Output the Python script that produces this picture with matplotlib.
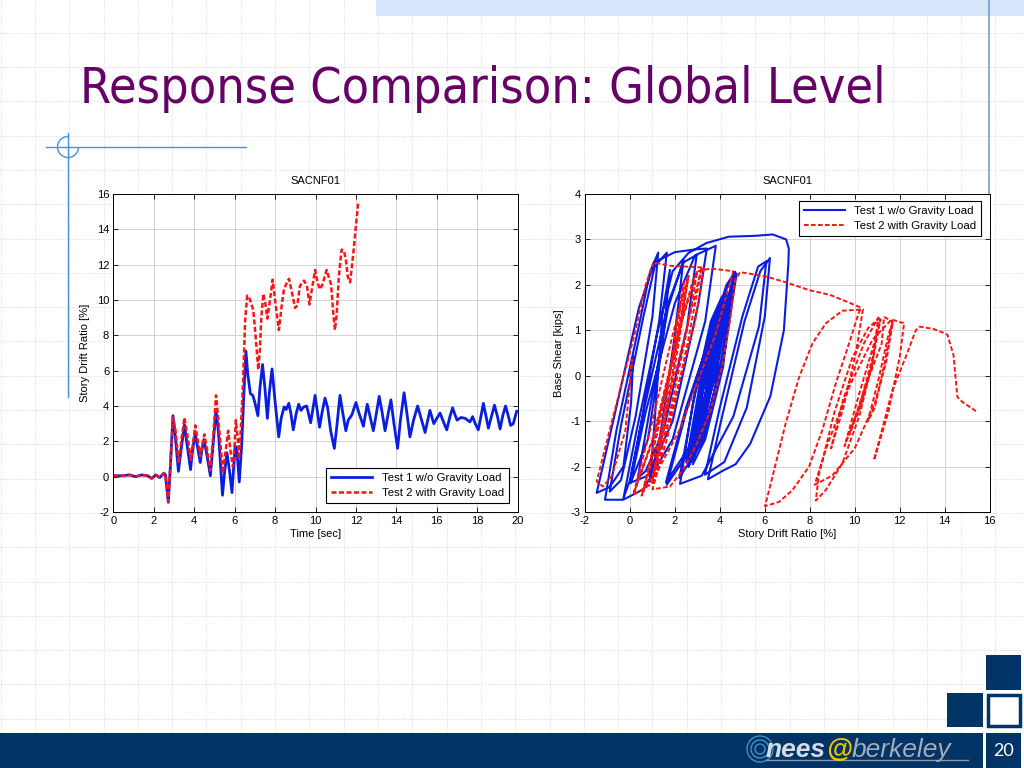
import numpy as np
import matplotlib
matplotlib.use('Agg')
import matplotlib.pyplot as plt
from matplotlib.patches import Rectangle, Arc, Circle

plt.rcParams['font.family'] = ['Liberation Sans', 'DejaVu Sans']
plt.rcParams['font.size'] = 8
plt.rcParams['axes.unicode_minus'] = False

# ---- data ----
title_text = 'Response Comparison: Global Level'
plot_title = 'SACNF01'
label1 = 'Test 1 w/o Gravity Load'
label2 = 'Test 2 with Gravity Load'

# story drift ratio [%] vs time [sec]
th_test1 = [
    (0.0, 0.05), (0.4, 0.05), (0.8, 0.1), (1.1, 0.0), (1.4, 0.1), (1.7, 0.05), (1.9, -0.1),
    (2.1, 0.1), (2.3, -0.05), (2.5, 0.2), (2.58, 0.1), (2.72, -1.45), (2.82, 0.5), (2.95, 3.45),
    (3.05, 2.5), (3.22, 0.3), (3.35, 1.5), (3.52, 2.95), (3.65, 1.8), (3.82, 0.4), (3.92, 1.5),
    (4.05, 2.45), (4.18, 1.6), (4.3, 0.8), (4.38, 1.5), (4.48, 2.1), (4.62, 1.3), (4.8, 0.05),
    (4.95, 2.0), (5.08, 3.8), (5.2, 2.5), (5.4, -1.05), (5.5, 0.2), (5.62, 1.35), (5.75, 0.3),
    (5.87, -0.9), (5.95, 0.5), (6.03, 1.75), (6.12, 1.4), (6.23, -0.3), (6.35, 1.8), (6.45, 4.5),
    (6.56, 7.1), (6.65, 5.8), (6.78, 4.7), (6.9, 4.6), (7.0, 4.2), (7.15, 3.45), (7.25, 5.0),
    (7.38, 6.35), (7.5, 5.0), (7.62, 3.3), (7.72, 4.8), (7.85, 6.1), (7.98, 4.5), (8.18, 2.25),
    (8.3, 3.3), (8.45, 3.95), (8.55, 3.8), (8.68, 4.15), (8.78, 3.6), (8.9, 2.65), (9.05, 3.6),
    (9.17, 4.1), (9.28, 3.75), (9.42, 3.95), (9.56, 4.0), (9.65, 3.6), (9.76, 3.05), (9.88, 3.9),
    (9.98, 4.6), (10.08, 3.8), (10.2, 2.8), (10.32, 3.6), (10.47, 4.45), (10.6, 3.9), (10.75, 2.6),
    (10.93, 1.6), (11.05, 2.8), (11.21, 4.6), (11.35, 3.6), (11.5, 2.6), (11.62, 3.2), (11.8, 3.5),
    (12.0, 4.2), (12.15, 3.6), (12.37, 2.85), (12.45, 3.4), (12.56, 4.1), (12.7, 3.4), (12.86, 2.6),
    (13.0, 3.5), (13.15, 4.55), (13.3, 3.6), (13.44, 2.6), (13.6, 3.6), (13.73, 4.35), (13.88, 3.0),
    (14.06, 1.6), (14.2, 3.2), (14.38, 4.75), (14.52, 3.6), (14.67, 2.25), (14.85, 3.2), (15.05, 4.0),
    (15.25, 3.2), (15.42, 2.5), (15.55, 3.2), (15.66, 3.75), (15.85, 3.0), (16.0, 3.3), (16.16, 3.6),
    (16.33, 3.1), (16.49, 2.65), (16.65, 3.4), (16.78, 3.9), (16.9, 3.5), (17.0, 3.2), (17.2, 3.35),
    (17.4, 3.3), (17.64, 3.1), (17.77, 3.4), (17.9, 3.0), (18.05, 2.65), (18.18, 3.4), (18.3, 4.15),
    (18.42, 3.5), (18.55, 2.75), (18.7, 3.4), (18.85, 4.05), (19.0, 3.4), (19.13, 2.7), (19.27, 3.5),
    (19.4, 4.0), (19.52, 3.5), (19.65, 2.9), (19.78, 3.0), (19.95, 3.7),
]
th_test2 = [
    (0.0, 0.05), (0.4, 0.05), (0.8, 0.1), (1.1, 0.0), (1.4, 0.1), (1.7, 0.05), (1.9, -0.1),
    (2.1, 0.1), (2.3, -0.05), (2.5, 0.2), (2.58, 0.1), (2.72, -1.4), (2.82, 0.6), (2.95, 3.35),
    (3.08, 2.6), (3.23, 0.75), (3.36, 2.0), (3.52, 3.35), (3.68, 2.2), (3.84, 0.95), (3.94, 1.9),
    (4.06, 2.9), (4.18, 2.0), (4.32, 1.15), (4.4, 1.8), (4.5, 2.4), (4.64, 1.5), (4.8, 0.35),
    (4.96, 2.6), (5.08, 4.6), (5.2, 3.2), (5.42, 0.2), (5.55, 1.4), (5.68, 2.6), (5.8, 1.4),
    (5.92, 0.55), (6.0, 1.8), (6.06, 3.2), (6.15, 2.2), (6.22, 1.0), (6.32, 3.0), (6.42, 5.5),
    (6.52, 8.8), (6.62, 10.25), (6.72, 10.15), (6.82, 9.8), (6.92, 9.45), (7.02, 8.2), (7.17, 6.05),
    (7.25, 7.2), (7.32, 9.0), (7.42, 10.35), (7.52, 9.8), (7.62, 8.95), (7.75, 10.0), (7.88, 11.15),
    (8.0, 10.0), (8.19, 8.3), (8.32, 9.6), (8.44, 10.6), (8.55, 10.9), (8.69, 11.2), (8.82, 10.5),
    (8.99, 9.55), (9.1, 9.7), (9.23, 10.8), (9.43, 11.1), (9.58, 10.8), (9.7, 9.75), (9.85, 10.8),
    (9.98, 11.7), (10.1, 11.0), (10.22, 10.6), (10.35, 10.9), (10.55, 11.7), (10.68, 11.2),
    (10.77, 10.9), (10.86, 9.5), (10.96, 8.3), (11.05, 9.2), (11.15, 11.3), (11.29, 12.85),
    (11.4, 12.8), (11.5, 12.3), (11.6, 11.3), (11.71, 11.0), (11.8, 11.9), (11.9, 13.0),
    (12.0, 14.2), (12.12, 15.6),
]

# base shear [kips] vs story drift ratio [%]
hys_test1 = [
    (0.00, 0.00), (0.08, 0.25), (0.15, 0.42), (0.05, -0.60), (-0.29, -2.00), (-0.90, -2.45), (-1.48, -2.58),
    (-0.70, -0.90), (0.40, 1.50), (1.10, 2.50), (2.00, 2.72), (2.90, 2.78), (3.42, 2.80),
    (3.05, 1.60), (1.90, -1.00), (0.80, -2.20), (0.00, -2.36),
    (0.60, -0.80), (1.70, 1.60), (2.40, 2.50), (2.97, 2.66),
    (2.55, 1.10), (1.50, -1.20), (0.70, -2.10), (0.35, -2.25),
    (0.90, -0.70), (1.70, 1.50), (2.38, 2.55),
    (2.00, 0.90), (1.35, -1.30), (0.89, -2.33),
    (1.10, -1.00), (1.45, 1.40), (1.78, 2.33),
    (1.45, 0.70), (0.80, -1.40), (0.03, -2.36),
    (0.70, -0.80), (2.00, 1.60), (2.90, 2.65), (3.82, 2.86),
    (3.35, 1.20), (1.90, -1.40), (0.60, -2.50), (-0.30, -2.73), (-1.11, -2.73),
    (-0.60, -1.20), (0.40, 1.10), (0.90, 2.30), (1.26, 2.71),
    (1.00, 1.30), (0.25, -0.90), (-0.40, -2.30), (-0.90, -2.55),
    (-0.40, -1.10), (0.60, 1.30), (1.10, 2.40), (1.64, 2.71),
    (1.30, 1.20), (0.55, -0.90), (0.00, -2.30), (-0.29, -2.70),
    (0.30, -1.20), (1.20, 0.90), (1.90, 2.30), (2.60, 2.70), (3.40, 2.92), (4.40, 3.06),
    (5.60, 3.08), (6.35, 3.11), (6.95, 3.00), (7.07, 2.80),
    (7.05, 2.47), (6.85, 1.00), (6.25, -0.45), (5.35, -1.50), (4.70, -1.95), (4.10, -2.10), (3.47, -2.28),
    (4.10, -0.90), (5.10, 1.20), (5.80, 2.30), (6.23, 2.59),
    (6.00, 1.30), (5.20, -0.70), (4.20, -1.90), (3.34, -2.18),
    (4.00, -0.70), (5.00, 1.30), (5.70, 2.40), (6.07, 2.52),
    (5.75, 1.10), (4.60, -0.90), (3.20, -2.20), (2.23, -2.38),
    (2.80, -0.60), (3.60, 1.20), (4.10, 1.75),
    (3.75, 0.40), (3.15, -1.20), (2.65, -1.85),
    (3.20, -0.40), (3.80, 1.20), (4.15, 1.70),
    (3.80, 0.20), (3.05, -1.55),
    (3.60, -0.30), (4.20, 1.30), (4.55, 2.10),
    (4.15, 0.20), (3.35, -1.40), (2.80, -1.95),
    (3.40, -0.50), (4.00, 1.10), (4.40, 1.80),
    (3.85, 0.00), (2.60, -1.70), (1.64, -2.40),
    (2.50, -0.80), (3.70, 1.10), (4.30, 2.00), (4.68, 2.29),
    (4.25, 0.60), (3.35, -1.30), (2.60, -2.00),
    (3.20, -0.50), (3.80, 1.00), (4.20, 1.70),
    (3.85, 0.20), (3.20, -1.30), (2.84, -1.80),
    (3.40, -0.30), (3.80, 1.10), (4.07, 1.60),
    (3.65, -0.10), (3.05, -1.50), (2.60, -2.00),
    (3.20, -0.40), (4.00, 1.30), (4.50, 1.90),
    (4.05, 0.30), (3.25, -1.40), (2.60, -1.95),
    (3.20, -0.40), (3.85, 1.10), (4.30, 1.80),
    (3.75, 0.00), (2.60, -1.60), (1.60, -2.35),
    (2.50, -0.70), (3.80, 1.20), (4.40, 2.05), (4.75, 2.25),
    (4.15, 0.40), (3.15, -1.50), (2.20, -2.25),
    (2.90, -0.40), (3.60, 1.00), (4.00, 1.60),
    (3.55, 0.00), (2.90, -1.40), (2.50, -1.90),
    (3.00, -0.50), (3.45, 0.80), (3.75, 1.30),
    (3.40, -0.30), (3.00, -1.20), (3.25, 0.00), (3.60, 1.00),
    (3.20, -0.40), (2.65, -1.70), (3.20, -0.20), (3.90, 1.40),
    (3.50, -0.30), (3.10, -1.10), (3.25, 0.00), (3.40, 0.50),
    (3.10, -0.80), (2.65, -1.75), (3.30, -0.10), (4.17, 1.65),
    (3.60, -0.10), (2.70, -1.75), (3.30, -0.10), (4.00, 1.55),
    (3.50, -0.20), (2.70, -1.70), (3.30, -0.10), (4.00, 1.50),
    (3.50, -0.30), (2.90, -1.50), (3.30, 0.00), (3.70, 1.00),
]
hys_test2 = [
    (0.00, 0.00), (0.10, 0.35), (-0.20, -1.20), (-0.80, -2.20), (-1.20, -2.44), (-1.48, -2.33),
    (-0.80, -1.00), (0.20, 0.90), (0.70, 2.00), (1.04, 2.49), (1.80, 2.42), (2.60, 2.40), (3.30, 2.38),
    (2.90, 1.20), (1.80, -0.90), (1.00, -2.20), (0.60, -2.55),
    (1.20, -1.20), (2.20, 1.00), (2.80, 2.10), (3.00, 2.30),
    (2.50, 0.90), (1.70, -1.00), (1.20, -2.10), (1.00, -2.40),
    (1.50, -1.10), (2.20, 1.00), (2.60, 2.20),
    (2.20, 0.80), (1.50, -1.20), (1.00, -2.30),
    (1.60, -0.60), (2.10, 1.20), (2.40, 2.05),
    (1.90, 0.40), (1.00, -1.40), (0.20, -2.55),
    (1.10, -1.30), (2.30, 1.20), (3.00, 2.30), (3.60, 2.36), (4.60, 2.30),
    (3.80, 0.90), (2.20, -1.20), (0.90, -2.40), (0.15, -2.62),
    (0.90, -1.20), (1.90, 0.90), (2.60, 2.20),
    (2.00, 0.60), (1.20, -1.30), (0.52, -2.64),
    (1.30, -1.40), (2.40, 0.80), (3.20, 2.39),
    (2.60, 0.80), (1.70, -1.30), (1.00, -2.50),
    (1.78, -2.44), (2.40, -2.05), (2.97, -1.50), (3.56, -0.80), (4.10, 0.20), (4.45, 1.20),
    (4.68, 2.10), (4.90, 2.28), (5.40, 2.24), (6.09, 2.18), (6.98, 2.05), (8.00, 1.88),
    (8.90, 1.78), (9.65, 1.63), (10.27, 1.50),
    (10.12, 1.29), (9.75, 0.71), (9.16, -0.17), (8.56, -1.20), (7.97, -2.00), (7.23, -2.52),
    (6.63, -2.78), (6.01, -2.87),
    (6.34, -2.23), (6.93, -1.05), (7.53, -0.03), (8.12, 0.71), (8.71, 1.15), (9.45, 1.43), (10.37, 1.46),
    (10.05, 0.50), (9.50, -0.70), (8.95, -1.60),
    (9.50, -0.50), (10.40, 0.70), (11.05, 1.28),
    (10.79, 0.27), (10.20, -0.90), (9.45, -1.93), (8.71, -2.52), (8.27, -2.75),
    (8.40, -2.20), (9.10, -0.80), (9.90, 0.40), (10.60, 1.05), (11.09, 1.26),
    (10.80, 0.40), (10.20, -0.70), (9.55, -1.55),
    (10.20, -0.40), (10.80, 0.60), (11.15, 1.24),
    (10.75, 0.20), (10.25, -0.70), (9.76, -1.30),
    (10.50, -0.20), (11.20, 0.70), (11.31, 1.29), (11.68, 1.20),
    (11.30, 0.20), (10.90, -0.70), (10.59, -1.00),
    (11.10, 0.00), (11.50, 0.90), (11.70, 1.18),
    (11.40, 0.30), (10.90, -0.60), (10.00, -1.60), (9.00, -2.20), (8.22, -2.40),
    (8.80, -1.50), (9.80, -0.20), (10.80, 0.80), (11.65, 1.24), (11.98, 1.18), (12.20, 1.16),
    (12.00, 0.40), (11.50, -0.80), (10.86, -1.86),
    (11.68, -0.32), (12.27, 0.41), (12.72, 1.00), (12.90, 1.08), (13.50, 1.03), (13.98, 0.94),
    (14.13, 0.90), (14.40, 0.45), (14.57, -0.47), (14.80, -0.58), (15.46, -0.80),
]

t1, d1 = np.array(th_test1).T
t2, d2 = np.array(th_test2).T
x1, v1 = np.array(hys_test1).T
x2, v2 = np.array(hys_test2).T

blue = '#0a1ee0'
red = '#ff1414'
navy = '#003366'

W, H = 1024, 768
fig = plt.figure(figsize=(W / 100, H / 100), dpi=100)
fig.patch.set_facecolor('white')

# ---- slide background (pixel coordinates) ----
bg = fig.add_axes([0, 0, 1, 1], zorder=0)
bg.set_xlim(0, W)
bg.set_ylim(H, 0)
bg.axis('off')
bg.vlines(np.arange(0.7, W, 34.3), 0, H, colors='#d3dcf0', linestyles=(0, (1, 1.3)), lw=0.7, zorder=1)
bg.hlines(np.arange(32.7, H, 34.3), 0, W, colors='#d3dcf0', linestyles=(0, (1, 1.3)), lw=0.7, zorder=1)
bg.add_patch(Rectangle((376, 0), W - 376, 16, color='#d6e5f9', lw=0, zorder=2))
bg.plot([989, 989], [0, 194], color='#7b9bd0', lw=1.2, zorder=3)
bg.plot([46, 246], [147, 147], color='#4a8fdc', lw=1.0, zorder=3)
bg.plot([68, 68], [133, 397], color='#4a8fdc', lw=1.0, zorder=3)
bg.add_patch(Arc((68, 147), 21, 21, theta1=0, theta2=270, color='#4a8fdc', lw=1.0, zorder=3))

bg.add_patch(Rectangle((0, 733), 983, 35, color=navy, lw=0, zorder=4))
bg.add_patch(Rectangle((986, 733), 35, 35, color=navy, lw=0, zorder=4))
bg.add_patch(Rectangle((986, 655), 35, 35, color=navy, lw=0, zorder=4))
bg.add_patch(Rectangle((947, 693), 36, 34, color=navy, lw=0, zorder=4))
bg.add_patch(Rectangle((987.5, 694.5), 32, 31, facecolor='white', edgecolor=navy, lw=2.5, zorder=4))
bg.text(1003.5, 751, '20', color='white', fontsize=13, family='Lato', ha='center', va='center', zorder=5)

# logo
for r in (13, 9, 5):
    bg.add_patch(Circle((760, 749), r, fill=False, edgecolor='#5cb4e6', lw=0.9, alpha=0.8, zorder=5))
logo_parts = [('nees', '#d4dbe4', 'bold'), ('@', '#f2c400', 'bold'), ('berkeley', '#a3acba', 'normal')]

title = fig.text(80 / W, 1 - 103 / H, title_text, color='#660066', fontsize=40,
                 family='DejaVu Sans', fontstretch='condensed', va='baseline', ha='left')

# ---- left: drift time history ----
ax1 = fig.add_axes([113.3 / W, 1 - 512 / H, 404.4 / W, 318 / H], zorder=2)
ax1.plot(t1, d1, color=blue, lw=2.0, label=label1)
ax1.plot(t2, d2, color=red, lw=1.8, ls=(0, (2, 1)), label=label2)
ax1.set_xlim(0, 20)
ax1.set_ylim(-2, 16)
ax1.set_xticks(range(0, 21, 2))
ax1.set_yticks(range(-2, 17, 2))
ax1.set_xlabel('Time [sec]', labelpad=2)
ax1.set_ylabel('Story Drift Ratio [%]', labelpad=5)
ax1.set_title(plot_title, fontsize=8, pad=7)
ax1.legend(loc='lower right', bbox_to_anchor=(0.978, 0.028), borderaxespad=0, fancybox=False,
           edgecolor='black', framealpha=1, handlelength=3.6, fontsize=8.2,
           borderpad=0.45, labelspacing=0.45).get_frame().set_linewidth(0.8)

# ---- right: hysteresis ----
ax2 = fig.add_axes([585 / W, 1 - 512 / H, 404.5 / W, 318 / H], zorder=2)
ax2.plot(x1, v1, color=blue, lw=1.5, label=label1)
ax2.plot(x2, v2, color=red, lw=1.4, ls=(0, (2.4, 1.2)), label=label2)
ax2.set_xlim(-2, 16)
ax2.set_ylim(-3, 4)
ax2.set_xticks(range(-2, 17, 2))
ax2.set_yticks(range(-3, 5))
ax2.set_xlabel('Story Drift Ratio [%]', labelpad=2)
ax2.set_ylabel('Base Shear [kips]', labelpad=5)
ax2.set_title(plot_title, fontsize=8, pad=7)
ax2.legend(loc='upper right', bbox_to_anchor=(0.979, 0.978), borderaxespad=0, fancybox=False,
           edgecolor='black', framealpha=1, handlelength=3.6, fontsize=8.2,
           borderpad=0.45, labelspacing=0.45).get_frame().set_linewidth(0.8)

for ax in (ax1, ax2):
    ax.set_facecolor('white')
    ax.grid(True, color='#d2d2d2', lw=0.7)
    ax.set_axisbelow(True)
    ax.tick_params(direction='in', top=True, right=True, length=3.5, width=0.6, pad=3, labelsize=8)
    for s in ax.spines.values():
        s.set_linewidth(0.7)

# fit title width to the slide and place the logo pieces
fig.canvas.draw()
r = fig.canvas.get_renderer()
w = title.get_window_extent(r).width
title.set_fontsize(40 * 805 / w)

x = 766
for txt, col, wt in logo_parts:
    t = bg.text(x, 757, txt, color=col, fontsize=19, style='italic', weight=wt, va='baseline',
                family='Liberation Sans', zorder=6)
    x += t.get_window_extent(r).width
bg.plot([766, 968], [760, 760], color='#8c95a6', lw=1.0, zorder=5)

fig.savefig('out.png', dpi=100)
